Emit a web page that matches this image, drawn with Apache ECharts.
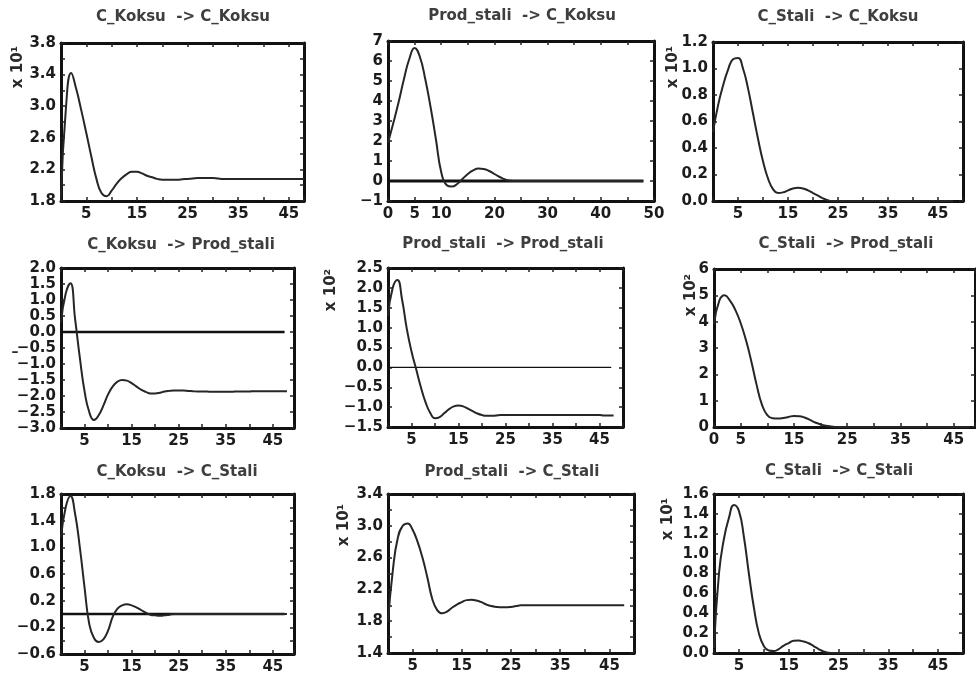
<!DOCTYPE html>
<html><head><meta charset="utf-8">
<script src="https://cdn.jsdelivr.net/npm/echarts@6/dist/echarts.min.js"></script>
<style>html,body{margin:0;padding:0;background:#fff}#c{width:976px;height:673px}</style>
</head><body><div id="c"></div>
<script>
// ---------------- DATA ----------------
const lags = [0,1,2,3,4,5,6,7,8,9,10,11,12,13,14,15,16,17,18,19,20,21,22,23,24,25,26,27,28,29,30,31,32,33,34,35,36,37,38,39,40,41,42,43,44,45,46,47,48];

const titles = [
  'C_Koksu  -> C_Koksu', 'Prod_stali  -> C_Koksu', 'C_Stali  -> C_Koksu',
  'C_Koksu  -> Prod_stali', 'Prod_stali  -> Prod_stali', 'C_Stali  -> Prod_stali',
  'C_Koksu  -> C_Stali', 'Prod_stali  -> C_Stali', 'C_Stali  -> C_Stali'
];
const scaleLabels = ['x 10¹', '', 'x 10¹', '', 'x 10²', 'x 10²', '', 'x 10¹', 'x 10¹'];

const koksuToKoksu = [1.85,3.0,3.42,3.22,2.95,2.66,2.36,2.08,1.9,1.86,1.93,2.02,2.09,2.14,2.17,2.17,2.15,2.12,2.1,2.08,2.07,2.07,2.07,2.07,2.075,2.08,2.085,2.09,2.09,2.09,2.09,2.085,2.08,2.08,2.08,2.08,2.08,2.08,2.08,2.08,2.08,2.08,2.08,2.08,2.08,2.08,2.08,2.08,2.08];
const prodToKoksu = [1.9,2.9,3.95,5.1,6.1,6.65,6.2,5.1,3.7,2.1,0.45,-0.2,-0.28,-0.15,0.1,0.35,0.53,0.62,0.6,0.5,0.35,0.2,0.08,0.01,0,0,0,0,0,0,0,0,0,0,0,0,0,0,0,0,0,0,0,0,0,0,0,0,0];
const staliToKoksu = [0.52,0.72,0.87,0.99,1.07,1.08,1.0,0.85,0.66,0.47,0.3,0.17,0.09,0.06,0.065,0.08,0.095,0.1,0.095,0.08,0.06,0.04,0.02,0.005,0,0,0,0,0,0,0,0,0,0,0,0,0,0,0,0,0,0,0,0,0,0,0,0,0];
const koksuToProd = [0.3,1.2,1.52,0.4,-0.8,-1.85,-2.5,-2.75,-2.6,-2.3,-1.95,-1.7,-1.55,-1.5,-1.52,-1.6,-1.7,-1.8,-1.87,-1.92,-1.92,-1.9,-1.86,-1.84,-1.83,-1.83,-1.83,-1.84,-1.85,-1.86,-1.86,-1.86,-1.87,-1.87,-1.87,-1.87,-1.87,-1.86,-1.86,-1.86,-1.86,-1.85,-1.85,-1.85,-1.85,-1.85,-1.85,-1.85,-1.85];
const prodToProd = [1.3,2.0,2.2,1.7,0.97,0.4,-0.05,-0.5,-0.88,-1.15,-1.28,-1.25,-1.15,-1.05,-0.98,-0.96,-0.98,-1.04,-1.1,-1.16,-1.2,-1.22,-1.22,-1.21,-1.2,-1.2,-1.2,-1.2,-1.2,-1.2,-1.2,-1.2,-1.2,-1.2,-1.2,-1.2,-1.2,-1.2,-1.2,-1.2,-1.2,-1.2,-1.2,-1.2,-1.2,-1.2,-1.21,-1.21,-1.21];
const staliToProd = [3.9,4.8,5.0,4.8,4.45,3.95,3.3,2.5,1.6,0.85,0.45,0.33,0.32,0.34,0.38,0.42,0.41,0.36,0.27,0.17,0.1,0.05,0.02,0,0,0,0,0,0,0,0,0,0,0,0,0,0,0,0,0,0,0,0,0,0,0,0,0,0];
const koksuToStali = [1.15,1.6,1.77,1.5,1.0,0.4,-0.15,-0.36,-0.42,-0.38,-0.25,-0.04,0.08,0.13,0.145,0.13,0.1,0.06,0.02,-0.01,-0.02,-0.025,-0.02,-0.01,0,0,0,0,0,0,0,0,0,0,0,0,0,0,0,0,0,0,0,0,0,0,0,0,0];
const prodToStali = [1.8,2.45,2.85,3.0,3.03,2.95,2.8,2.6,2.35,2.08,1.94,1.9,1.92,1.97,2.01,2.04,2.065,2.07,2.06,2.04,2.01,1.99,1.98,1.975,1.975,1.98,1.99,2.0,2.0,2.0,2.0,2.0,2.0,2.0,2.0,2.0,2.0,2.0,2.0,2.0,2.0,2.0,2.0,2.0,2.0,2.0,2.0,2.0,2.0];
const staliToStali = [0.05,0.8,1.15,1.36,1.49,1.43,1.17,0.8,0.46,0.2,0.07,0.025,0.02,0.04,0.075,0.1,0.123,0.125,0.115,0.098,0.07,0.04,0.015,0.003,0,0,0,0,0,0,0,0,0,0,0,0];

const zeroLineLagsLong = [0, 48];
const zeroLineLagsShort = [0, 47.5];
const zeroLineValues = [0, 0];

const xTicksOdd = [5,15,25,35,45];
const xTicksP2 = [0,5,10,20,30,40,50];
const xTicksP6 = [0,5,15,25,35,45];

const yTicks1 = [1.8,2.2,2.6,3.0,3.4,3.8];
const yTicks2 = [-1,0,1,2,3,4,5,6,7];
const yTicks3 = [0.0,0.2,0.4,0.6,0.8,1.0,1.2];
const yTicks4 = [-3.0,-2.5,-2.0,-1.5,-1.0,-0.5,0.0,0.5,1.0,1.5,2.0];
const yTicks5 = [-1.5,-1.0,-0.5,0.0,0.5,1.0,1.5,2.0,2.5];
const yTicks6 = [0,1,2,3,4,5,6];
const yTicks7 = [-0.6,-0.2,0.2,0.6,1.0,1.4,1.8];
const yTicks8 = [1.4,1.8,2.2,2.6,3.0,3.4];
const yTicks9 = [0.0,0.2,0.4,0.6,0.8,1.0,1.2,1.4,1.6];

// ---------------- LAYOUT ----------------
const panels = [
  {vals: koksuToKoksu, box:[61,43,304,201], xMax:48, yMin:1.8, yMax:3.8, yStep:0.2, dec:1, xT:xTicksOdd, yT:yTicks1, zero:null, tp:[183,17], sp:[18,67]},
  {vals: prodToKoksu, box:[388,41,654,201], xMax:50, yMin:-1, yMax:7, yStep:1, dec:0, xT:xTicksP2, yT:yTicks2, zero:{lags:zeroLineLagsLong, w:3}, tp:[522,16], sp:null},
  {vals: staliToKoksu, box:[713,42,963,201], xMax:50, yMin:0, yMax:1.2, yStep:0.2, dec:1, xT:xTicksOdd, yT:yTicks3, zero:null, tp:[838,17], sp:[673,67]},
  {vals: koksuToProd, box:[61,268,294,428], xMax:49.5, yMin:-3, yMax:2, yStep:0.5, dec:1, xT:xTicksOdd, yT:yTicks4, zero:{lags:zeroLineLagsShort, w:2.5}, tp:[181,245], sp:null},
  {vals: prodToProd, box:[388,268,623,427], xMax:50, yMin:-1.5, yMax:2.5, yStep:0.5, dec:1, xT:xTicksOdd, yT:yTicks5, zero:{lags:zeroLineLagsShort, w:1.3}, tp:[503,244], sp:[331,290]},
  {vals: staliToProd, box:[714,269,975,427], xMax:49, yMin:0, yMax:6, yStep:1, dec:0, xT:xTicksP6, yT:yTicks6, zero:null, tp:[846,244], sp:[691,295]},
  {vals: koksuToStali, box:[61,494,294,654], xMax:49.5, yMin:-0.6, yMax:1.8, yStep:0.2, dec:1, xT:xTicksOdd, yT:yTicks7, zero:{lags:zeroLineLagsShort, w:2.5}, tp:[177,472], sp:null},
  {vals: prodToStali, box:[388,494,634,653], xMax:50, yMin:1.4, yMax:3.4, yStep:0.2, dec:1, xT:xTicksOdd, yT:yTicks8, zero:null, tp:[512,472], sp:[344,525]},
  {vals: staliToStali, box:[714,494,963,653], xMax:50, yMin:0, yMax:1.6, yStep:0.2, dec:1, xT:xTicksOdd, yT:yTicks9, zero:null, tp:[839,471], sp:[668,519]}
];

const FONT = '"DejaVu Sans", sans-serif';
const grid = [], xAxis = [], yAxis = [], series = [], graphic = [];

function fmtFrom(list, dec) {
  return function (v) {
    for (const l of list) {
      if (Math.abs(v - l) < 1e-6) {
        let s = l.toFixed(dec);
        if (l < 0) s = '\u2212' + s.slice(1);
        return s;
      }
    }
    return '';
  };
}

const axisLine = {show: true, onZero: false, lineStyle: {color: '#111', width: 3}};
const tick = {show: true, inside: true, length: 4, lineStyle: {color: '#222', width: 1.5}};
const lbl = {fontFamily: FONT, fontWeight: 'bold', fontSize: 15, color: '#1c1c1c', hideOverlap: false, showMinLabel: true, showMaxLabel: true};

panels.forEach((p, i) => {
  const [l, t, r, b] = p.box;
  grid.push({left: l, top: t, width: r - l, height: b - t, containLabel: false, outerBoundsMode: 'none'});
  const xBase = {type: 'value', gridIndex: i, min: 0, max: p.xMax, interval: 5, splitLine: {show: false}, axisLine, axisTick: tick};
  xAxis.push(Object.assign({}, xBase, {position: 'bottom', axisLabel: Object.assign({}, lbl, {margin: 6, formatter: fmtFrom(p.xT, 0)})}));
  xAxis.push(Object.assign({}, xBase, {position: 'top', axisLabel: {show: false}}));
  const yBase = {type: 'value', gridIndex: i, min: p.yMin, max: p.yMax, interval: p.yStep, splitLine: {show: false}, axisLine, axisTick: tick};
  yAxis.push(Object.assign({}, yBase, {position: 'left', axisLabel: Object.assign({}, lbl, {margin: 5, formatter: fmtFrom(p.yT, p.dec)})}));
  yAxis.push(Object.assign({}, yBase, {position: 'right', axisLabel: {show: false}}));
  if (p.zero) {
    series.push({type: 'line', xAxisIndex: 2 * i, yAxisIndex: 2 * i, showSymbol: false, silent: true,
      data: p.zero.lags.map((x, k) => [x, zeroLineValues[k]]),
      lineStyle: {color: '#111', width: p.zero.w}});
  }
  series.push({type: 'line', xAxisIndex: 2 * i, yAxisIndex: 2 * i, showSymbol: false, smooth: 0.5,
    data: p.vals.map((v, k) => [lags[k], v]),
    lineStyle: {color: '#262626', width: 2}});
  graphic.push({type: 'text', x: p.tp[0], y: p.tp[1], style: {text: titles[i], align: 'center', verticalAlign: 'middle', font: 'bold 15px ' + FONT, fill: '#3e3e3e'}});
  if (p.sp && scaleLabels[i]) {
    graphic.push({type: 'text', x: p.sp[0], y: p.sp[1], rotation: Math.PI / 2, style: {text: scaleLabels[i], align: 'center', verticalAlign: 'middle', font: 'bold 15px ' + FONT, fill: '#2a2a2a'}});
  }
});
graphic.push({type: 'text', x: 15, y: 352, style: {text: '\u2013', align: 'center', verticalAlign: 'middle', font: 'bold 14px ' + FONT, fill: '#2a2a2a'}});

const chart = echarts.init(document.getElementById('c'), null, {renderer: 'canvas'});
chart.setOption({animation: false, backgroundColor: '#fff', grid, xAxis, yAxis, series, graphic});
</script>
</body></html>
